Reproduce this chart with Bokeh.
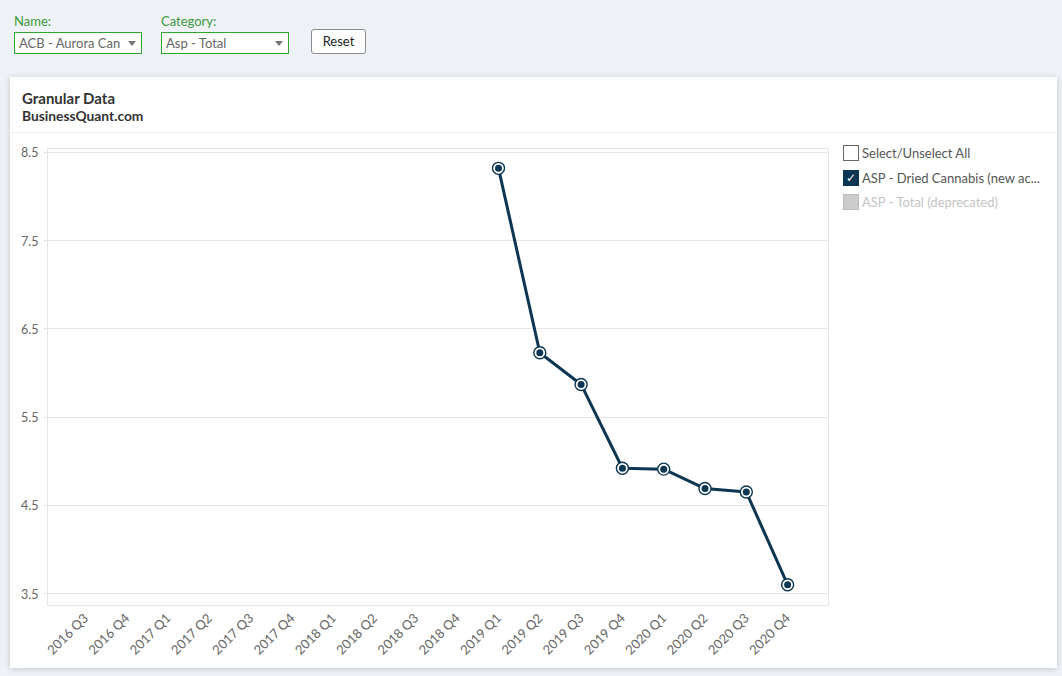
import math
from bokeh.plotting import figure
from bokeh.models import Range1d, FixedTicker, Div, Spacer, ColumnDataSource
from bokeh.layouts import column, row
from bokeh.embed import file_html
from bokeh.resources import INLINE

# ---------------- data ----------------
quarters = ["2016 Q3", "2016 Q4", "2017 Q1", "2017 Q2", "2017 Q3", "2017 Q4",
            "2018 Q1", "2018 Q2", "2018 Q3", "2018 Q4", "2019 Q1", "2019 Q2",
            "2019 Q3", "2019 Q4", "2020 Q1", "2020 Q2", "2020 Q3", "2020 Q4"]
series_quarters = ["2019 Q1", "2019 Q2", "2019 Q3", "2019 Q4",
                   "2020 Q1", "2020 Q2", "2020 Q3", "2020 Q4"]
asp_dried_cannabis = [8.32, 6.23, 5.87, 4.92, 4.91, 4.69, 4.65, 3.60]
y_ticks = [3.5, 4.5, 5.5, 6.5, 7.5, 8.5]
legend_labels = ["Select/Unselect All", "ASP - Dried Cannabis (new ac...", "ASP - Total (deprecated)"]
name_label = "Name:"
name_value = "ACB - Aurora Can"
category_label = "Category:"
category_value = "Asp - Total"
title_text = "Granular Data"
subtitle_text = "BusinessQuant.com"

NAVY = "#0d3652"
GRID = "#e6e6e6"
FONT = "Lato"
PAGE_BG = "#eef1f5"

# ---------------- chart ----------------
src = ColumnDataSource(dict(
    x=[quarters.index(q) for q in series_quarters],
    y=asp_dried_cannabis,
))

p = figure(frame_width=781, frame_height=457,
           min_border_left=37, min_border_right=10,
           min_border_top=15, min_border_bottom=63,
           x_range=Range1d(-0.92, 17.99), y_range=Range1d(3.364, 8.545),
           output_backend="svg", toolbar_location=None)
p.border_fill_color = "white"
p.background_fill_color = "white"
p.outline_line_color = GRID
p.outline_line_width = 1

p.xgrid.visible = False
p.ygrid.ticker = FixedTicker(ticks=y_ticks)
p.ygrid.grid_line_color = GRID
p.ygrid.grid_line_width = 1

xa = p.xaxis[0]
xa.ticker = FixedTicker(ticks=list(range(len(quarters))))
xa.major_label_overrides = {i: q for i, q in enumerate(quarters)}
xa.major_label_orientation = math.pi / 4
xa.axis_line_color = None
xa.major_tick_line_color = None
xa.minor_tick_line_color = None
xa.major_tick_out = 0
xa.major_label_standoff = 10
xa.major_label_text_font = FONT
xa.major_label_text_font_size = "13px"
xa.major_label_text_color = "#666666"

ya = p.yaxis[0]
ya.ticker = FixedTicker(ticks=y_ticks)
ya.axis_line_color = None
ya.major_tick_line_color = GRID
ya.major_tick_out = 4
ya.major_tick_in = 0
ya.minor_tick_line_color = None
ya.major_label_standoff = 5
ya.major_label_text_font = FONT
ya.major_label_text_font_size = "12.5px"
ya.major_label_text_color = "#666666"

p.line("x", "y", source=src, line_color=NAVY, line_width=3)
p.scatter("x", "y", source=src, size=12, fill_color="white",
          line_color=NAVY, line_width=1.4)
p.scatter("x", "y", source=src, size=7, fill_color=NAVY, line_color=None)

# ---------------- html parts ----------------
def select_box(left, width, text):
    return (
        f'<div style="position:absolute;left:{left}px;top:32px;width:{width}px;height:22px;'
        f'box-sizing:border-box;border:1px solid #2ea62e;background:#fff;">'
        f'<div style="position:absolute;left:4px;top:2px;white-space:nowrap;'
        f'color:#666;font-size:13px;line-height:16px;">{text}</div>'
        f'<div style="position:absolute;right:5px;top:8px;width:0;height:0;'
        f'border-left:4px solid transparent;border-right:4px solid transparent;'
        f'border-top:5px solid #777;"></div></div>'
    )

header_html = (
    f'<div style="position:relative;width:1062px;height:77px;font-family:{FONT};">'
    f'<div style="position:absolute;left:14px;top:12px;color:#3c9a3c;font-size:13px;">{name_label}</div>'
    + select_box(14, 128, name_value) +
    f'<div style="position:absolute;left:161px;top:12px;color:#3c9a3c;font-size:13px;">{category_label}</div>'
    + select_box(161, 128, category_value) +
    f'<div style="position:absolute;left:311px;top:29px;width:55px;height:25px;box-sizing:border-box;'
    f'border:1px solid #8c8c8c;border-radius:3px;background:#fff;color:#222;font-size:13px;'
    f'text-align:center;line-height:22px;">Reset</div>'
    '</div>'
)
header = Div(text=header_html, width=1062, height=77, margin=0)

card_head_html = (
    f'<div style="position:relative;width:1047px;height:56px;box-sizing:border-box;'
    f'border-bottom:1px solid #f0f0f0;font-family:{FONT};color:#333;">'
    f'<div style="position:absolute;left:12px;top:11px;font-weight:bold;font-size:15px;">{title_text}</div>'
    f'<div style="position:absolute;left:12px;top:29px;font-weight:bold;font-size:13.8px;">{subtitle_text}</div>'
    '</div>'
)
card_head = Div(text=card_head_html, width=1047, height=56, margin=0)

box_styles = [
    "border:1.5px solid #666;background:#fff;",
    "border:1.5px solid #0d3652;background:#0d3652;",
    "border:1.5px solid #bdbdbd;background:#cccccc;",
]
text_colors = ["#555", "#555", "#c4c4c4"]
marks = ["", "&#10003;", ""]
items = ""
for i, (lab, bs, tc, mk) in enumerate(zip(legend_labels, box_styles, text_colors, marks)):
    top = 12 + 24.5 * i
    items += (
        f'<div style="position:absolute;left:5px;top:{top}px;width:16px;height:16px;box-sizing:border-box;{bs}'
        f'color:#fff;font-size:12px;line-height:14px;text-align:center;font-family:DejaVu Sans;">{mk}</div>'
        f'<div style="position:absolute;left:24px;top:{top}px;color:{tc};font-size:13px;'
        f'line-height:16px;white-space:nowrap;">{lab}</div>'
    )
legend_html = (
    f'<div style="position:relative;width:219px;height:535px;font-family:{FONT};">{items}</div>'
)
legend = Div(text=legend_html, width=219, height=535, margin=0)

card = column(card_head, row(p, legend, spacing=0), spacing=0,
              styles={"background-color": "white",
                      "box-shadow": "0 1px 6px rgba(0,0,0,0.18)"})

root = column(
    header,
    row(Spacer(width=10, height=591), card, Spacer(width=5, height=591), spacing=0),
    Spacer(width=1062, height=8),
    spacing=0,
    styles={"background-color": PAGE_BG},
)

open("out.html", "w").write(file_html(root, INLINE))
